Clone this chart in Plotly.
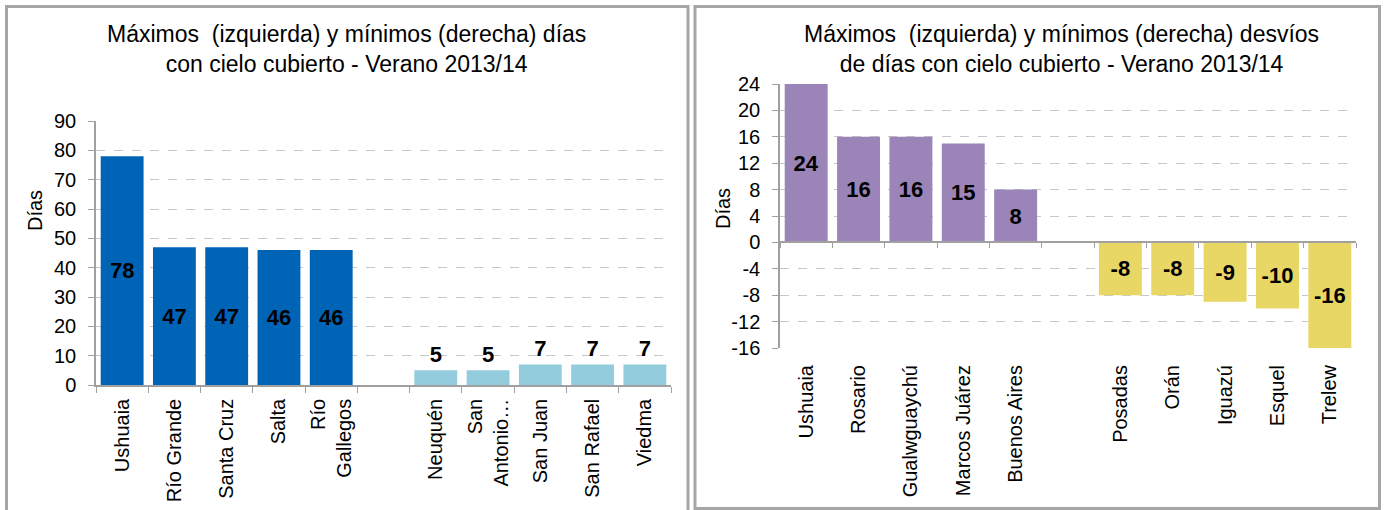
import plotly.graph_objects as go

# ---- data -------------------------------------------------------------
cat_max = ["Ushuaia", "Río Grande", "Santa Cruz", "Salta", "Río<br>Gallegos"]
cat_min = ["Neuquén", "San<br>Antonio…", "San Juan", "San Rafael", "Viedma"]
dias_max = [78, 47, 47, 46, 46]
dias_min = [5, 5, 7, 7, 7]

cat_dmax = ["Ushuaia", "Rosario", "Gualwguaychú", "Marcos Juárez", "Buenos Aires"]
cat_dmin = ["Posadas", "Orán", "Iguazú", "Esquel", "Trelew"]
desvio_max = [24, 16, 16, 15, 8]
desvio_min = [-8, -8, -9, -10, -16]

desvio_ticks = [-16, -12, -8, -4, 0, 4, 8, 12, 16, 20, 24]

left_title = "Máximos  (izquierda) y mínimos (derecha) días<br>con cielo cubierto - Verano 2013/14"
right_title = "Máximos  (izquierda) y mínimos (derecha) desvíos<br>de días con cielo cubierto - Verano 2013/14"

# ---- layout helpers ---------------------------------------------------
W, H = 1384, 510
FONT = "Liberation Sans, Arial, sans-serif"
AXIS_GRAY = "#A0A0A0"
GRID_GRAY = "#C8C8C8"
GAP_L = " "      # empty slot separating the two groups
GAP_R = "  "

cats_left = cat_max + [GAP_L] + cat_min
cats_right = cat_dmax + [GAP_R] + cat_dmin
n_left, n_right = len(cats_left), len(cats_right)


def px_x(a, b):
    return [a / W, b / W]


def px_y(top, bottom):
    return [1 - bottom / H, 1 - top / H]


def labels(vals):
    # plain hyphen for negatives
    return [str(v) for v in vals]


lab_font = dict(family=FONT, size=22, color="black")

fig = go.Figure()

# left chart: maximum / minimum overcast days
fig.add_trace(go.Bar(
    x=cat_max, y=dias_max, marker_color="#0064B6", marker_line_width=0,
    text=labels(dias_max), textposition="inside", insidetextanchor="middle",
    textangle=0, textfont=lab_font, texttemplate="<b>%{text}</b>",
    xaxis="x", yaxis="y", showlegend=False))
fig.add_trace(go.Bar(
    x=cat_min, y=dias_min, marker_color="#93CDDD", marker_line_width=0,
    text=labels(dias_min), textposition="outside", cliponaxis=False,
    textangle=0, textfont=lab_font, texttemplate="<b>%{text}</b>",
    xaxis="x", yaxis="y", showlegend=False))

# right chart: deviations
fig.add_trace(go.Bar(
    x=cat_dmax, y=desvio_max, marker_color="#9A84B8", marker_line_width=0,
    text=labels(desvio_max), textposition="inside", insidetextanchor="middle",
    textangle=0, textfont=lab_font, texttemplate="<b>%{text}</b>",
    xaxis="x2", yaxis="y2", showlegend=False))
fig.add_trace(go.Bar(
    x=cat_dmin, y=desvio_min, marker_color="#E8D665", marker_line_width=0,
    text=labels(desvio_min), textposition="inside", insidetextanchor="middle",
    textangle=0, textfont=lab_font, texttemplate="<b>%{text}</b>",
    xaxis="x2", yaxis="y2", showlegend=False))

# invisible trace so the zero-line category axis is drawn
fig.add_trace(go.Scatter(x=[0], y=[0], mode="markers", marker_opacity=0,
                         hoverinfo="skip", xaxis="x3", yaxis="y2",
                         showlegend=False))

tick_font = dict(family=FONT, size=20, color="black")

left_xdom = px_x(96, 671)
left_ydom = px_y(121, 385)
right_xdom = px_x(780, 1356)
right_ydom = px_y(84, 348)

yr2 = [desvio_ticks[0], desvio_ticks[-1]]
zero_pos = right_ydom[0] + (0 - yr2[0]) / (yr2[1] - yr2[0]) * (right_ydom[1] - right_ydom[0])

fig.update_layout(
    width=W, height=H, margin=dict(l=0, r=0, t=0, b=0, autoexpand=False),
    paper_bgcolor="white", plot_bgcolor="white",
    font=dict(family=FONT, color="black"),
    barmode="overlay", bargap=0.18,
    xaxis=dict(domain=left_xdom, anchor="y", type="category",
               categoryorder="array", categoryarray=cats_left,
               range=[-0.5, n_left - 0.5], tickson="boundaries",
               ticks="outside", ticklen=6, tickcolor=AXIS_GRAY,
               showline=True, linecolor=AXIS_GRAY, linewidth=1.5,
               showgrid=False, tickangle=-90, tickfont=tick_font,
               ticklabelstandoff=4, automargin=False),
    yaxis=dict(domain=left_ydom, anchor="x", range=[0, 90], dtick=10,
               ticks="outside", ticklen=6, tickcolor=AXIS_GRAY,
               showline=True, linecolor=AXIS_GRAY, linewidth=1.5,
               showgrid=True, gridcolor=GRID_GRAY, griddash="dash",
               gridwidth=1, zeroline=False, tickfont=tick_font,
               ticklabelstandoff=8, automargin=False),
    xaxis2=dict(domain=right_xdom, anchor="y2", type="category",
                categoryorder="array", categoryarray=cats_right,
                range=[-0.5, n_right - 0.5], ticks="", showline=False,
                showgrid=False, tickangle=-90, tickfont=tick_font,
                ticklabelstandoff=12, automargin=False),
    xaxis3=dict(overlaying="x2", anchor="free", position=zero_pos,
                range=[-0.5, n_right - 0.5],
                tickvals=[i - 0.5 for i in range(n_right + 1)],
                showticklabels=False, ticks="outside", ticklen=5,
                tickcolor=AXIS_GRAY, showline=True, linecolor=AXIS_GRAY,
                linewidth=1.5, showgrid=False, zeroline=False,
                automargin=False),
    yaxis2=dict(domain=right_ydom, anchor="x2", range=yr2,
                tickvals=desvio_ticks, ticktext=labels(desvio_ticks),
                ticks="outside", ticklen=6, tickcolor=AXIS_GRAY,
                showline=True, linecolor=AXIS_GRAY, linewidth=1.5,
                showgrid=True, gridcolor=GRID_GRAY, griddash="dash",
                gridwidth=1, zeroline=False, tickfont=tick_font,
                ticklabelstandoff=8, automargin=False),
)

title_font = dict(family=FONT, size=23, color="black")
fig.add_annotation(text=left_title, x=347 / W, y=1 - 49 / H, xref="paper",
                   yref="paper", xanchor="center", yanchor="middle",
                   showarrow=False, font=title_font)
fig.add_annotation(text=right_title, x=1061 / W, y=1 - 49 / H, xref="paper",
                   yref="paper", xanchor="center", yanchor="middle",
                   showarrow=False, font=title_font)
fig.add_annotation(text="Días", x=35 / W, y=1 - 211 / H, xref="paper",
                   yref="paper", xanchor="center", yanchor="middle",
                   textangle=-90, showarrow=False,
                   font=dict(family=FONT, size=20, color="black"))
fig.add_annotation(text="Días", x=723 / W, y=1 - 209 / H, xref="paper",
                   yref="paper", xanchor="center", yanchor="middle",
                   textangle=-90, showarrow=False,
                   font=dict(family=FONT, size=20, color="black"))

# panel frames
frame = dict(color="#A6A6A6", width=3)
fig.add_shape(type="rect", xref="paper", yref="paper",
              x0=6.5 / W, x1=688 / W, y0=-0.05, y1=1 - 6.5 / H, line=frame)
fig.add_shape(type="rect", xref="paper", yref="paper",
              x0=695 / W, x1=1379.5 / W, y0=1 - 508.5 / H, y1=1 - 6.5 / H,
              line=frame)

fig.write_html("out.html")
